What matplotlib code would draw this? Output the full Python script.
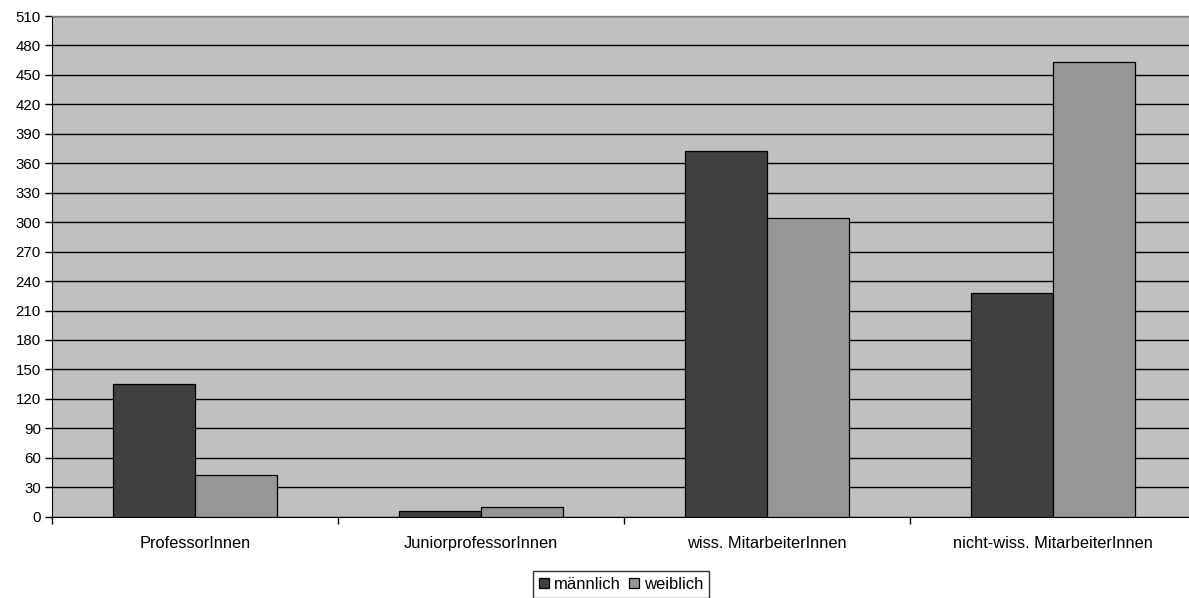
import matplotlib
matplotlib.use("Agg")
import matplotlib.pyplot as plt
import numpy as np

categories = ["ProfessorInnen", "JuniorprofessorInnen", "wiss. MitarbeiterInnen", "nicht-wiss. MitarbeiterInnen"]
maennlich = [135, 6, 373, 228]
weiblich = [42, 10, 304, 463]
series_names = ["männlich", "weiblich"]
yticks = list(range(0, 511, 30))

plt.rcParams['font.family'] = ['Liberation Sans', 'DejaVu Sans']

fig = plt.figure(figsize=(11.89, 5.98), dpi=100)
ax = fig.add_axes([52/1189, 1-516.7/598, (1196-52)/1189, (516.7-16)/598])
ax.set_facecolor('#C0C0C0')

x = np.arange(len(categories))
w = 0.287
ax.bar(x - w/2, maennlich, w, color='#404040', edgecolor='black', linewidth=0.9, label=series_names[0], zorder=3)
ax.bar(x + w/2, weiblich, w, color='#969696', edgecolor='black', linewidth=0.9, label=series_names[1], zorder=3)

ax.set_xlim(-0.5, len(categories) - 0.5)
ax.set_ylim(0, 510)
ax.set_yticks(yticks)
ax.tick_params(axis='y', labelsize=10.8, length=5, direction='out', width=1, pad=3)
ax.yaxis.grid(True, color='black', linewidth=1, zorder=1)
ax.set_axisbelow(True)

ax.set_xticks(x)
ax.set_xticklabels(categories, fontsize=11.8)
ax.tick_params(axis='x', length=0, pad=14)
ax.set_xticks(np.arange(-0.5, len(categories) + 0.5, 1), minor=True)
ax.tick_params(axis='x', which='minor', length=5, width=1, direction='out')

ax.spines['right'].set_visible(False)
ax.spines['top'].set_color('#808080')
ax.spines['top'].set_linewidth(1)
ax.spines['left'].set_color('black')
ax.spines['bottom'].set_color('black')

leg = fig.legend(loc='upper center', bbox_to_anchor=(621/1189, 1-571/598), ncol=2, fontsize=12,
                 frameon=True, fancybox=False, edgecolor='black', handlelength=0.6, handleheight=0.6,
                 handletextpad=0.3, columnspacing=0.5, borderpad=0.35, borderaxespad=0)
leg.get_frame().set_linewidth(1)

fig.savefig("out.png", dpi=100)
